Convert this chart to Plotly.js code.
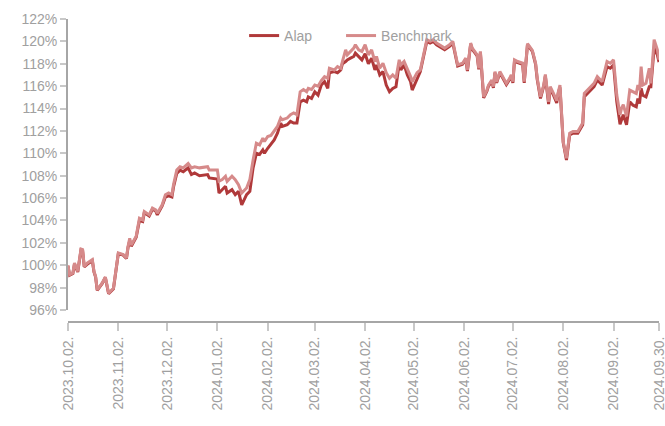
<!DOCTYPE html>
<html>
<head>
<meta charset="utf-8">
<script src="https://cdn.plot.ly/plotly-3.0.1.min.js"></script>
<style>html,body{margin:0;padding:0;background:#fff;}#chart{width:665px;height:426px;}</style>
</head>
<body>
<div id="chart"></div>
<script>
const dates = [
"2023-10-02","2023-10-03","2023-10-05","2023-10-06","2023-10-08","2023-10-10","2023-10-11","2023-10-12","2023-10-14","2023-10-17",
"2023-10-18","2023-10-19","2023-10-20","2023-10-23","2023-10-25","2023-10-26","2023-10-27","2023-10-30","2023-10-31","2023-11-02",
"2023-11-05","2023-11-07","2023-11-08","2023-11-09","2023-11-10","2023-11-12","2023-11-13","2023-11-15","2023-11-17","2023-11-18",
"2023-11-20","2023-11-21","2023-11-23","2023-11-25","2023-11-26","2023-11-29","2023-12-01","2023-12-03","2023-12-05","2023-12-06",
"2023-12-08","2023-12-10","2023-12-12","2023-12-15","2023-12-17","2023-12-19","2023-12-22","2023-12-27","2023-12-28","2024-01-02",
"2024-01-03","2024-01-05","2024-01-07","2024-01-08","2024-01-11","2024-01-13","2024-01-15","2024-01-17","2024-01-20","2024-01-22",
"2024-01-24","2024-01-26","2024-01-28","2024-01-30","2024-01-31","2024-02-02","2024-02-04","2024-02-06","2024-02-08","2024-02-10",
"2024-02-11","2024-02-14","2024-02-16","2024-02-18","2024-02-20","2024-02-22","2024-02-24","2024-02-26","2024-02-27","2024-02-29",
"2024-03-02","2024-03-04","2024-03-06","2024-03-08","2024-03-10","2024-03-11","2024-03-14","2024-03-16","2024-03-18","2024-03-19",
"2024-03-21","2024-03-22","2024-03-24","2024-03-26","2024-03-27","2024-03-29","2024-03-31","2024-04-02","2024-04-04","2024-04-06",
"2024-04-08","2024-04-09","2024-04-11","2024-04-13","2024-04-15","2024-04-17","2024-04-19","2024-04-21","2024-04-23","2024-04-24",
"2024-04-26","2024-04-28","2024-04-30","2024-05-01","2024-05-04","2024-05-06","2024-05-08","2024-05-10","2024-05-12","2024-05-14",
"2024-05-16","2024-05-18","2024-05-21","2024-05-24","2024-05-26","2024-05-29","2024-06-01","2024-06-03","2024-06-04","2024-06-06",
"2024-06-07","2024-06-10","2024-06-11","2024-06-12","2024-06-14","2024-06-16","2024-06-17","2024-06-19","2024-06-20","2024-06-21",
"2024-06-22","2024-06-24","2024-06-26","2024-06-28","2024-06-30","2024-07-01","2024-07-02","2024-07-03","2024-07-05","2024-07-08",
"2024-07-09","2024-07-11","2024-07-14","2024-07-16","2024-07-17","2024-07-19","2024-07-21","2024-07-22","2024-07-24","2024-07-25",
"2024-07-27","2024-07-29","2024-07-30","2024-07-31","2024-08-02","2024-08-04","2024-08-06","2024-08-08","2024-08-11","2024-08-14",
"2024-08-15","2024-08-17","2024-08-20","2024-08-21","2024-08-23","2024-08-25","2024-08-26","2024-08-29","2024-08-31","2024-09-02",
"2024-09-04","2024-09-06","2024-09-07","2024-09-08","2024-09-10","2024-09-12","2024-09-14","2024-09-16","2024-09-17","2024-09-18",
"2024-09-19","2024-09-20","2024-09-22","2024-09-24","2024-09-25","2024-09-27","2024-09-29","2024-09-30"
];
const benchmark = [
100.0,99.15,99.3,100.2,99.45,101.45,101.4,99.9,100.2,100.5,
99.45,99.0,97.8,98.4,98.95,98.1,97.5,97.95,99.0,101.1,
100.95,100.65,101.7,102.4,101.8,102.3,102.6,104.2,104.05,104.8,
104.65,104.5,105.1,104.95,104.65,105.4,106.3,106.45,106.3,107.2,
108.5,108.8,108.7,109.1,108.7,108.8,108.7,108.8,108.5,108.5,
107.5,107.65,107.95,107.5,107.95,107.65,107.2,106.45,106.9,107.65,
109.4,110.9,110.75,111.35,111.05,111.5,111.6,112.0,112.4,113.15,
113.0,113.15,113.45,113.6,113.45,115.5,115.7,115.5,115.8,115.7,
116.1,116.0,116.5,116.85,116.7,117.6,117.45,117.75,117.6,118.2,
119.25,118.8,119.1,119.4,119.7,119.25,119.1,119.7,118.8,119.25,
118.2,118.65,117.6,118.05,117.2,116.7,117.0,116.7,118.35,117.9,
118.2,117.6,116.85,116.4,117.2,117.45,118.95,120.15,120.0,120.15,
119.85,119.7,119.4,119.7,120.0,117.9,118.05,118.5,117.45,119.85,
119.4,118.8,117.6,119.1,115.05,115.65,116.1,116.55,115.95,117.3,
116.4,117.3,116.7,116.25,116.7,117.0,116.4,118.35,118.2,118.05,
116.4,119.8,119.2,118.05,116.7,115.05,116.1,117.05,114.6,115.95,
115.35,114.7,115.5,116.1,111.05,109.55,111.8,111.95,111.95,112.7,
115.35,115.65,116.1,116.25,116.85,116.55,116.4,118.2,118.05,118.35,
115.2,113.45,114.05,114.35,113.3,115.65,115.5,115.35,116.1,115.65,
117.75,116.1,116.25,117.6,116.25,120.15,119.25,118.35
];
const alap = [
99.9,99.1,99.25,100.1,99.4,101.35,101.3,99.85,100.1,100.4,
99.4,98.95,97.75,98.35,98.9,98.05,97.45,97.9,98.95,101.05,
100.9,100.6,101.6,102.2,101.7,102.2,102.5,104.0,103.9,104.7,
104.5,104.4,105.0,104.85,104.5,105.3,106.1,106.2,106.1,107.0,
108.2,108.5,108.35,108.7,108.1,108.25,108.0,108.1,107.8,107.7,
106.45,106.75,107.05,106.45,106.75,106.3,106.6,105.4,106.3,106.6,
108.7,110.0,109.9,110.3,110.0,110.45,110.8,111.2,111.8,112.7,
112.4,112.55,112.85,112.7,112.7,114.6,114.75,114.6,115.05,114.9,
115.5,115.2,116.1,116.4,115.8,117.2,117.3,117.2,117.45,118.0,
118.2,118.35,118.5,118.65,118.95,118.65,118.35,118.9,118.0,118.5,
117.45,117.9,117.0,117.3,116.1,115.5,115.8,115.95,118.05,117.45,
117.9,117.0,116.4,115.65,116.7,117.3,118.65,120.0,119.85,120.0,
119.7,119.55,119.25,119.55,119.85,117.8,117.95,118.4,117.35,119.75,
119.3,118.7,117.5,119.0,114.95,115.55,116.0,116.45,115.85,117.2,
116.3,117.2,116.6,116.15,116.6,116.9,116.3,118.25,118.1,117.95,
116.3,119.7,119.1,117.95,116.6,114.9,116.0,116.9,114.4,115.8,
115.2,114.5,115.4,115.9,110.95,109.4,111.65,111.8,111.8,112.55,
115.05,115.35,115.8,115.95,116.55,116.25,116.1,117.75,117.6,117.9,
114.6,112.6,113.15,113.45,112.55,114.6,114.3,114.15,114.9,114.45,
115.8,115.2,115.05,115.95,115.95,119.4,118.8,118.15
];
const tickDates = ["2023-10-02","2023-11-02","2023-12-02","2024-01-02","2024-02-02","2024-03-02","2024-04-02","2024-05-02","2024-06-02","2024-07-02","2024-08-02","2024-09-02","2024-09-30"];
const tickLabels = ["2023.10.02.","2023.11.02.","2023.12.02.","2024.01.02.","2024.02.02.","2024.03.02.","2024.04.02.","2024.05.02.","2024.06.02.","2024.07.02.","2024.08.02.","2024.09.02.","2024.09.30."];
const yTicks = [96,98,100,102,104,106,108,110,112,114,116,118,120,122];

const pctY = v => v.map(x => x/100);

const traces = [
  {x: dates, y: pctY(alap), name: "Alap", type: "scatter", mode: "lines",
   line: {color: "#B0393A", width: 3}, legend: "legend"},
  {x: dates, y: pctY(benchmark), name: "Benchmark", type: "scatter", mode: "lines",
   line: {color: "#D68A8A", width: 3}, legend: "legend2"}
];

const font = {family: "Liberation Sans, Arial, sans-serif", size: 14, color: "#a0a0a0"};

const layout = {
  width: 665, height: 426,
  margin: {l: 68, r: 6, t: 19, b: 104},
  paper_bgcolor: "#fff", plot_bgcolor: "#fff",
  font: font,
  showlegend: true,
  legend: {orientation: "h", x: 0.298, xanchor: "left", y: 0.944, yanchor: "middle",
           font: font, bgcolor: "rgba(0,0,0,0)"},
  legend2: {orientation: "h", x: 0.462, xanchor: "left", y: 0.944, yanchor: "middle",
           font: font, bgcolor: "rgba(0,0,0,0)"},
  xaxis: {
    type: "date", range: ["2023-10-02", "2024-09-30"],
    anchor: "free", position: 0,
    showgrid: false, zeroline: false,
    showline: true, linecolor: "#a6a6a6", linewidth: 2,
    ticks: "outside", ticklen: 8, tickwidth: 2, tickcolor: "#c8c8c8",
    tickvals: tickDates, ticktext: tickLabels, tickangle: -90,
    ticklabeloverflow: "allow",
    tickfont: font
  },
  yaxis: {
    domain: [0.0396, 1], range: [0.96, 1.22],
    showgrid: false, zeroline: false,
    showline: true, linecolor: "#a6a6a6", linewidth: 2,
    ticks: "outside", ticklen: 6, tickwidth: 2, tickcolor: "#c8c8c8",
    tickvals: yTicks.map(v => v/100), ticktext: yTicks.map(v => v + "%"),
    tickfont: font
  }
};

Plotly.newPlot("chart", traces, layout, {displayModeBar: false, staticPlot: true});
</script>
</body>
</html>
